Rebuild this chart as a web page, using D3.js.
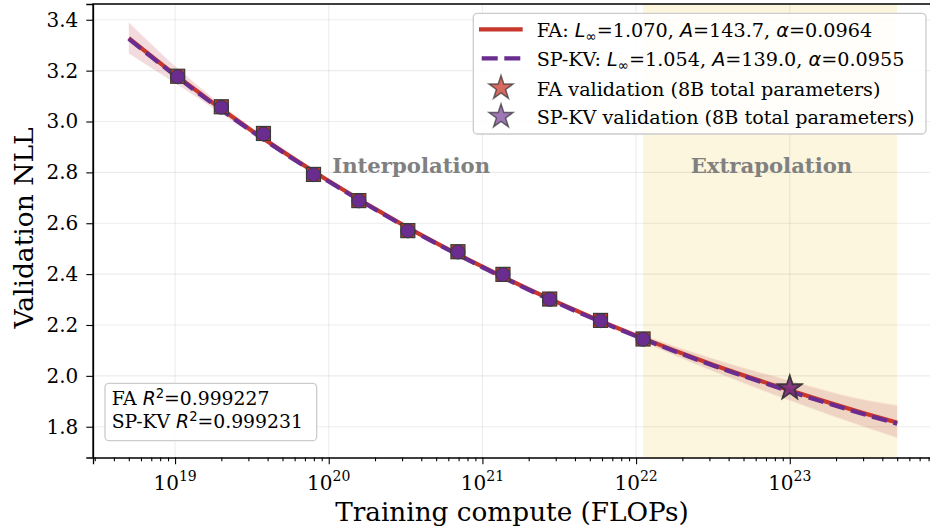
<!DOCTYPE html>
<html><head><meta charset="utf-8">
<script src="https://cdn.jsdelivr.net/npm/d3@7"></script>
<style>
body{margin:0;background:#fff}
svg{display:block}
text{font-family:"DejaVu Serif",serif;fill:#000}
</style>
</head><body>
<svg id="c" width="930" height="527"></svg>
<script>
// ---------------- data ----------------
const computeFLOPs = [1.04e19, 2.0e19, 3.76e19, 7.96e19, 1.57e20, 3.27e20, 6.93e20, 1.36e21, 2.74e21, 5.87e21, 1.11e22];
const faNLL   = [3.178, 3.058, 2.953, 2.792, 2.689, 2.571, 2.488, 2.399, 2.302, 2.218, 2.145];
const spkvNLL = [3.176, 3.056, 2.951, 2.791, 2.688, 2.570, 2.487, 2.398, 2.301, 2.217, 2.144];

const fitCompute = [5e18, 1e19, 3.16e19, 1e20, 3.16e20, 1e21, 3.16e21, 1e22, 3.16e22, 1e23, 3.16e23, 5e23];
const faFit   = [3.328, 3.184, 2.964, 2.766, 2.588, 2.429, 2.286, 2.158, 2.044, 1.943, 1.850, 1.816];
const spkvFit = [3.325, 3.181, 2.961, 2.764, 2.586, 2.427, 2.283, 2.156, 2.041, 1.939, 1.846, 1.812];
const faLow   = [3.268, 3.152, 2.952, 2.760, 2.584, 2.425, 2.280, 2.146, 2.020, 1.905, 1.798, 1.758];
const faHigh  = [3.390, 3.218, 2.976, 2.772, 2.592, 2.433, 2.292, 2.170, 2.068, 1.982, 1.905, 1.885];
const spkvLow = [3.265, 3.149, 2.949, 2.758, 2.582, 2.423, 2.277, 2.144, 2.017, 1.901, 1.794, 1.754];
const spkvHigh= [3.387, 3.215, 2.973, 2.770, 2.590, 2.431, 2.289, 2.168, 2.065, 1.978, 1.900, 1.880];

const valCompute = 1e23;
const faValNLL = 1.953;
const spkvValNLL = 1.951;

const xTickValues = [1e19, 1e20, 1e21, 1e22, 1e23];
const xTickExp = ["19", "20", "21", "22", "23"];
const yTickValues = [1.8, 2.0, 2.2, 2.4, 2.6, 2.8, 3.0, 3.2, 3.4];
const regionLabels = ["Interpolation", "Extrapolation"];
const r2Labels = [["FA ", "0.999227"], ["SP-KV ", "0.999231"]];

const RED = "#c8372b", PURPLE = "#6b2c8f";

// ---------------- scales ----------------
const svg = d3.select("#c");
const L = 93, R = 933, T = 4, B = 457.5;
const x = d3.scaleLog().domain([Math.pow(10, 18.466), Math.pow(10, 23.932)]).range([L, R]);
const y = d3.scaleLinear().domain([1.679, 3.462]).range([B, T]);

// extrapolation span
svg.append("rect")
  .attr("x", x(computeFLOPs[computeFLOPs.length - 1]))
  .attr("y", T)
  .attr("width", x(fitCompute[fitCompute.length - 1]) - x(computeFLOPs[computeFLOPs.length - 1]))
  .attr("height", B - T)
  .attr("fill", "#fcf6de");

// grid
const grid = svg.append("g").attr("stroke", "#000").attr("stroke-opacity", 0.075).attr("stroke-width", 1.1);
xTickValues.forEach(v => grid.append("line").attr("x1", x(v)).attr("x2", x(v)).attr("y1", T).attr("y2", B));
yTickValues.forEach(v => grid.append("line").attr("x1", L).attr("x2", R).attr("y1", y(v)).attr("y2", y(v)));

// bands
function band(lo, hi) {
  return d3.area().x((d, i) => x(fitCompute[i])).y0((d, i) => y(lo[i])).y1((d, i) => y(hi[i]))
    .curve(d3.curveMonotoneX)(fitCompute);
}
svg.append("path").attr("d", band(faLow, faHigh)).attr("fill", RED).attr("fill-opacity", 0.13);
svg.append("path").attr("d", band(spkvLow, spkvHigh)).attr("fill", "#b0508a").attr("fill-opacity", 0.07);

// fit lines
const line = vals => d3.line().x((d, i) => x(fitCompute[i])).y((d, i) => y(vals[i])).curve(d3.curveMonotoneX)(fitCompute);
svg.append("path").attr("d", line(faFit)).attr("fill", "none").attr("stroke", RED).attr("stroke-width", 4.2);
svg.append("path").attr("d", line(spkvFit)).attr("fill", "none").attr("stroke", PURPLE).attr("stroke-width", 4.2)
  .attr("stroke-dasharray", "15.5,6.6");

// markers
const S = 14;
svg.append("g").selectAll("rect").data(computeFLOPs).join("rect")
  .attr("x", (d) => x(d) - S / 2).attr("y", (d, i) => y(faNLL[i]) - S / 2)
  .attr("width", S).attr("height", S)
  .attr("fill", RED).attr("stroke", "#3a3a3a").attr("stroke-width", 1.2);
svg.append("g").selectAll("circle").data(computeFLOPs).join("circle")
  .attr("cx", d => x(d)).attr("cy", (d, i) => y(spkvNLL[i])).attr("r", 7)
  .attr("fill", PURPLE).attr("stroke", "#3a3a3a").attr("stroke-width", 1);

// stars
const star = d3.symbol().type(d3.symbolStar).size(178)();
svg.append("path").attr("d", star).attr("transform", `translate(${x(valCompute)},${y(faValNLL)})`)
  .attr("fill", RED).attr("fill-opacity", 0.75).attr("stroke", "#333").attr("stroke-width", 1.5).attr("stroke-opacity", 0.8);
svg.append("path").attr("d", star).attr("transform", `translate(${x(valCompute)},${y(spkvValNLL)})`)
  .attr("fill", PURPLE).attr("fill-opacity", 0.75).attr("stroke", "#333").attr("stroke-width", 1.5).attr("stroke-opacity", 0.8);

// region labels
const regionX = [3.44e20, 7.6e22];
regionLabels.forEach((t, i) => {
  svg.append("text").attr("x", x(regionX[i])).attr("y", y(2.829)).attr("dy", "0.36em")
    .attr("text-anchor", "middle").attr("font-weight", "bold").attr("font-size", 21.2)
    .style("fill", "#808080").text(t);
});

// axes
svg.append("g").attr("transform", `translate(0,${B})`)
  .call(d3.axisBottom(x).tickValues(xTickValues).tickSize(6.7).tickFormat(""));
const minor = [];
for (let e = 18; e <= 23; e++) for (let m = 2; m <= 9; m++) { const v = m * Math.pow(10, e); if (v > x.domain()[0] && v < x.domain()[1]) minor.push(v); }
svg.append("g").attr("transform", `translate(0,${B})`)
  .call(d3.axisBottom(x).tickValues(minor).tickSize(3.8).tickFormat(""))
  .call(g => g.select(".domain").remove());
xTickValues.forEach((v, i) => {
  const t = svg.append("text").attr("x", x(v)).attr("y", 490).attr("text-anchor", "middle").attr("font-size", 20);
  t.append("tspan").text("10");
  t.append("tspan").attr("dy", -9).attr("font-size", 14).text(xTickExp[i]);
});
const yAxis = svg.append("g").attr("transform", `translate(${L},0)`)
  .call(d3.axisLeft(y).tickValues(yTickValues).tickSize(6.7).tickPadding(8).tickFormat(d3.format(".1f")));
yAxis.selectAll("text").attr("font-size", 20).style("font-family", "DejaVu Serif");
svg.selectAll(".tick line").attr("stroke-width", 1.1);
svg.selectAll(".domain").attr("stroke-width", 1.3);
// frame (top / right)
svg.append("path").attr("d", `M${L},${B}V${T}H${R}V${B}`).attr("fill", "none").attr("stroke", "#000").attr("stroke-width", 1.3);

// axis labels
svg.append("text").attr("x", (L + R) / 2 - 1).attr("y", 521).attr("text-anchor", "middle").attr("font-size", 26.3)
  .text("Training compute (FLOPs)");
svg.append("text").attr("transform", "translate(33,228) rotate(-90)").attr("text-anchor", "middle").attr("font-size", 26.5)
  .text("Validation NLL");

// rich text helper
function rich(sel, parts) {
  parts.forEach(p => {
    const ts = sel.append("tspan").text(p.t);
    if (p.i) ts.style("font-family", "DejaVu Sans").style("font-style", "italic");
    if (p.sub) ts.attr("font-size", "0.7em").attr("dy", 4).style("font-family", "DejaVu Sans");
    if (p.after) ts.attr("dy", -4);
    if (p.sup) ts.attr("font-size", "0.7em").attr("dy", -7).style("font-family", "DejaVu Sans");
    if (p.afterSup) ts.attr("dy", 7);
  });
}

// legend
const lg = svg.append("g");
lg.append("rect").attr("x", 473.3).attr("y", 13.3).attr("width", 452.7).attr("height", 120.7).attr("rx", 4)
  .attr("fill", "#fff").attr("fill-opacity", 0.85).attr("stroke", "#cccccc").attr("stroke-width", 1.3);
const rowBase = [37.3, 65.8, 95.5, 124];
lg.append("line").attr("x1", 479).attr("x2", 522.7).attr("y1", rowBase[0] - 8).attr("y2", rowBase[0] - 8)
  .attr("stroke", RED).attr("stroke-width", 4.2);
lg.append("line").attr("x1", 481.7).attr("x2", 520.5).attr("y1", rowBase[1] - 7.5).attr("y2", rowBase[1] - 7.5)
  .attr("stroke", PURPLE).attr("stroke-width", 4.2).attr("stroke-dasharray", "16,6.6");
lg.append("path").attr("d", star).attr("transform", `translate(501,${rowBase[2] - 7.5})`)
  .attr("fill", RED).attr("fill-opacity", 0.75).attr("stroke", "#333").attr("stroke-width", 1.5).attr("stroke-opacity", 0.7);
lg.append("path").attr("d", star).attr("transform", `translate(501,${rowBase[3] - 7.5})`)
  .attr("fill", PURPLE).attr("fill-opacity", 0.65).attr("stroke", "#333").attr("stroke-width", 1.5).attr("stroke-opacity", 0.7);
const legendParts = [
  [{t: "FA: "}, {t: "L", i: true}, {t: "\u221E", sub: true}, {t: "=1.070, ", after: true}, {t: "A", i: true}, {t: "=143.7, "}, {t: "\u03B1", i: true}, {t: "=0.0964"}],
  [{t: "SP-KV: "}, {t: "L", i: true}, {t: "\u221E", sub: true}, {t: "=1.054, ", after: true}, {t: "A", i: true}, {t: "=139.0, "}, {t: "\u03B1", i: true}, {t: "=0.0955"}],
  [{t: "FA validation (8B total parameters)"}],
  [{t: "SP-KV validation (8B total parameters)"}]
];
legendParts.forEach((parts, i) => {
  const t = lg.append("text").attr("x", 536.7).attr("y", rowBase[i]).attr("font-size", 19.2);
  rich(t, parts);
});

// R^2 box
const rb = svg.append("g");
rb.append("rect").attr("x", 105).attr("y", 383.3).attr("width", 211.7).attr("height", 57.4).attr("rx", 4)
  .attr("fill", "#fff").attr("fill-opacity", 0.85).attr("stroke", "#cccccc").attr("stroke-width", 1.3);
r2Labels.forEach((r, i) => {
  const t = rb.append("text").attr("x", 111.7).attr("y", [404.5, 427.5][i]).attr("font-size", 18.8);
  rich(t, [{t: r[0]}, {t: "R", i: true}, {t: "2", sup: true}, {t: "=" + r[1], afterSup: true}]);
});
</script>
</body></html>
